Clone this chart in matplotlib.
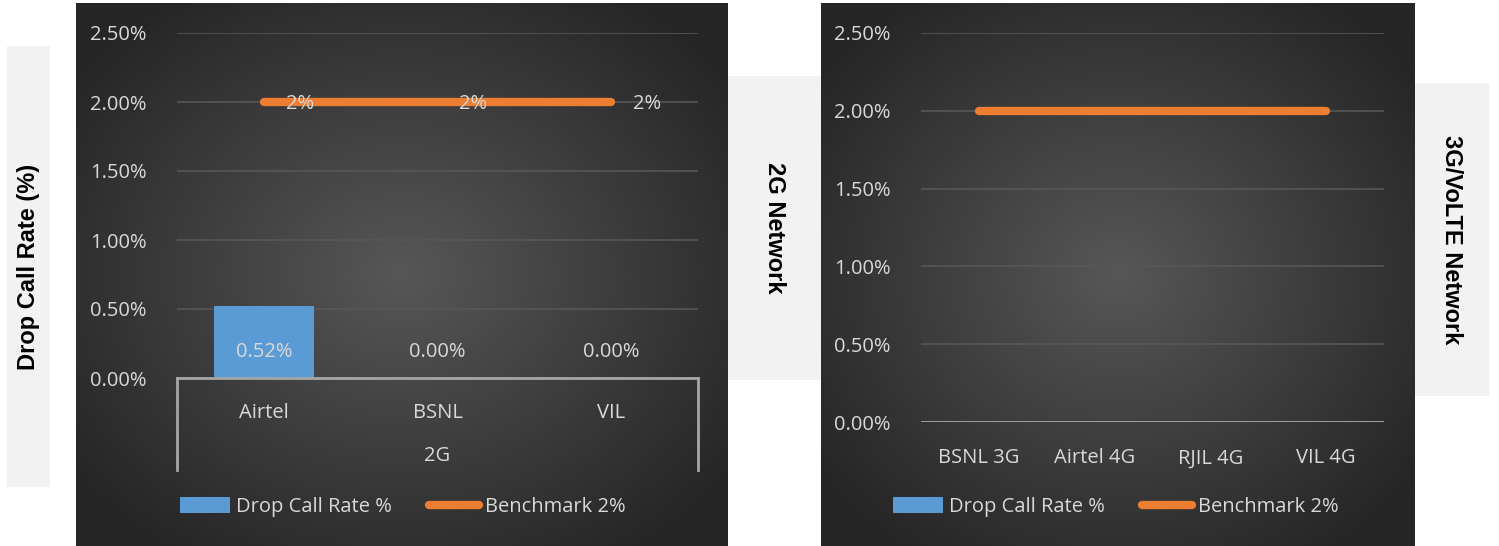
import matplotlib.pyplot as plt
import numpy as np
from matplotlib.patches import Patch
from matplotlib.lines import Line2D

# data
cats_2g = ["Airtel", "BSNL", "VIL"]
drop_2g = [0.0052, 0.0, 0.0]
bench_2g = [0.02, 0.02, 0.02]

cats_4g = ["BSNL 3G", "Airtel 4G", "RJIL 4G", "VIL 4G"]
drop_4g = [0.0, 0.0, 0.0, 0.0]
bench_4g = [0.02, 0.02, 0.02, 0.02]

yticks = [0, 0.005, 0.01, 0.015, 0.02, 0.025]

W, H = 1499, 546
BLUE = "#5b9bd5"
ORANGE = "#ed7d31"
TXT = "#d9d9d9"
GRID = "#575757"
AXLINE = "#a6a6a6"
FONT = ["Open Sans", "DejaVu Sans"]
BOLD = ["Liberation Sans Narrow", "Liberation Sans", "DejaVu Sans"]
FS = 14.5

plt.rcParams["font.family"] = FONT


def box(x0, y0, x1, y1):
    # pixel box (top-left origin) -> figure fraction rect
    return [x0 / W, 1 - y1 / H, (x1 - x0) / W, (y1 - y0) / H]


fig = plt.figure(figsize=(W / 100, H / 100), dpi=100)
fig.patch.set_facecolor("white")


def dark_panel(x0, y0, x1, y1):
    bg = fig.add_axes(box(x0, y0, x1, y1), zorder=0)
    yy, xx = np.mgrid[0:1:200j, 0:1:200j]
    r = np.sqrt(((xx - 0.5) / 0.62) ** 2 + ((yy - 0.5) / 0.62) ** 2)
    r = np.clip(r, 0, 1)
    c0, c1 = np.array([0x57] * 3) / 255, np.array([0x26] * 3) / 255
    img = c0[None, None, :] * (1 - r[..., None]) + c1[None, None, :] * r[..., None]
    bg.imshow(img, aspect="auto", extent=[0, 1, 0, 1])
    bg.axis("off")


def side_label(x0, y0, x1, y1, text, rot):
    a = fig.add_axes(box(x0, y0, x1, y1), zorder=0)
    a.set_facecolor("#f2f2f2")
    a.set_xticks([])
    a.set_yticks([])
    for s in a.spines.values():
        s.set_visible(False)
    a.text(0.5, 0.5, text, rotation=rot, ha="center", va="center",
           fontsize=17, fontweight="bold", family=BOLD, color="black")


side_label(7, 46, 50, 487, "Drop Call Rate (%)", 90)
side_label(728, 76, 821, 380, "2G Network", -90)
side_label(1414, 83, 1489, 396, "3G/VoLTE Network", -90)

dark_panel(76, 3, 728, 546)
dark_panel(821, 3, 1414, 546)


def style_axes(ax):
    ax.patch.set_alpha(0)
    for s in ax.spines.values():
        s.set_visible(False)
    ax.set_ylim(0, 0.025)
    ax.set_yticks(yticks)
    ax.set_yticklabels([f"{v * 100:.2f}%" for v in yticks])
    ax.tick_params(axis="y", length=0, pad=22, labelsize=FS, labelcolor=TXT)
    ax.tick_params(axis="x", length=0, labelsize=FS, labelcolor=TXT)
    ax.yaxis.grid(True, color=GRID, lw=1.2)
    ax.set_axisbelow(True)


def legend(x, y):
    handles = [Patch(facecolor=BLUE, edgecolor="none"),
               Line2D([0], [0], color=ORANGE, lw=6, solid_capstyle="round")]
    fig.legend(handles, ["Drop Call Rate %", "Benchmark 2%"], ncol=2,
               loc="center left", bbox_to_anchor=(x / W, 1 - y / H),
               frameon=False, fontsize=FS, labelcolor=TXT,
               handlelength=2.5, handleheight=0.85, handletextpad=0.3,
               columnspacing=1.8, borderpad=0, borderaxespad=0)


# left chart: 2G
ax1 = fig.add_axes(box(177, 33, 698, 378), zorder=2)
style_axes(ax1)
x1 = np.arange(len(cats_2g))
ax1.bar(x1, drop_2g, width=0.575, color=BLUE, zorder=2)
ax1.plot(x1, bench_2g, color=ORANGE, lw=6, solid_capstyle="round", zorder=3)
ax1.set_xlim(-0.5, len(cats_2g) - 0.5)
ax1.set_xticks(x1)
ax1.set_xticklabels(cats_2g)
ax1.tick_params(axis="x", pad=18)
for i, v in enumerate(drop_2g):
    ax1.annotate(f"{v * 100:.2f}%", (i, 0), xytext=(0, 26), textcoords="offset pixels",
                 ha="center", va="center", fontsize=FS, color=TXT, zorder=4)
for i, v in enumerate(bench_2g):
    ax1.annotate(f"{v * 100:.0f}%", (i, v), xytext=(22, -2), textcoords="offset pixels",
                 ha="left", va="center", fontsize=FS, color=TXT, zorder=4)
# multi-level category axis frame
frame_bottom = -(470 - 378) / (378 - 33)
ax1.plot([0, 1], [0, 0], transform=ax1.transAxes, color=AXLINE, lw=2, clip_on=False, zorder=3)
ax1.plot([0, 0], [0, frame_bottom], transform=ax1.transAxes, color=AXLINE, lw=2, clip_on=False)
ax1.plot([1, 1], [0, frame_bottom], transform=ax1.transAxes, color=AXLINE, lw=2, clip_on=False)
ax1.text(0.5, -(456 - 378) / (378 - 33), "2G", transform=ax1.transAxes,
         ha="center", va="center", fontsize=FS, color=TXT)
legend(180, 507)

# right chart: 3G / 4G
ax2 = fig.add_axes(box(921, 33, 1384, 422), zorder=2)
style_axes(ax2)
x2 = np.arange(len(cats_4g))
ax2.bar(x2, drop_4g, width=0.575, color=BLUE, zorder=2)
ax2.plot(x2, bench_4g, color=ORANGE, lw=6, solid_capstyle="round", zorder=3)
ax2.set_xlim(-0.5, len(cats_4g) - 0.5)
ax2.set_xticks(x2)
ax2.set_xticklabels(cats_4g)
ax2.tick_params(axis="x", pad=19)
ax2.axhline(0, color=AXLINE, lw=2, zorder=3)
legend(893, 507)

fig.savefig("out.png", dpi=100)
